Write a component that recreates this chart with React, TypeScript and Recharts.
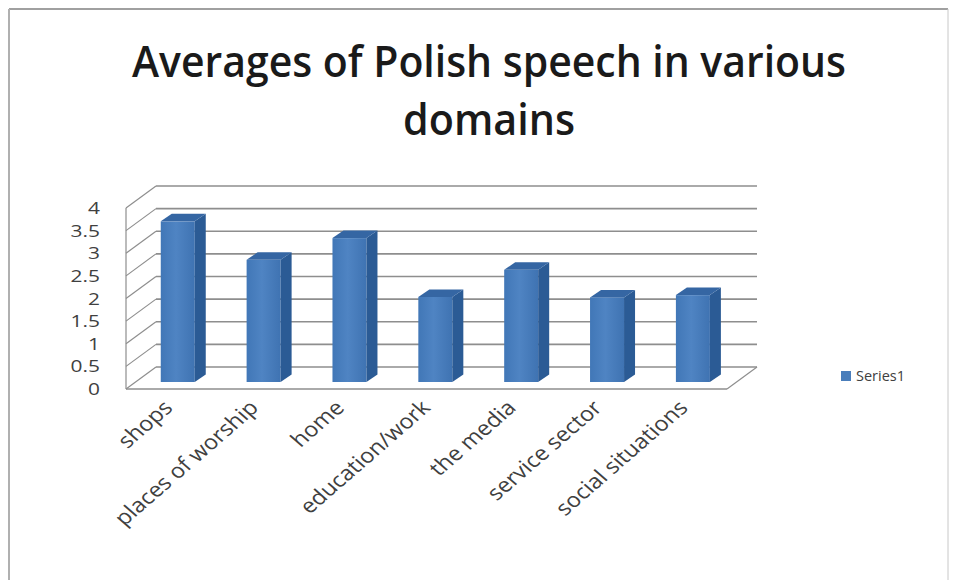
import React from 'react';
import { BarChart, Bar, XAxis, YAxis, CartesianGrid, Legend } from 'recharts';

const categories = ['shops', 'places of worship', 'home', 'education/work', 'the media', 'service sector', 'social situations'];
const series1 = [3.55, 2.7, 3.18, 1.88, 2.48, 1.87, 1.92];
const yTicks = [0, 0.5, 1, 1.5, 2, 2.5, 3, 3.5, 4];
const seriesName = 'Series1';
const titleLines = ['Averages of Polish speech in various', 'domains'];

const data = categories.map((c, i) => ({ name: c, value: series1[i] }));

const W = 958;
const H = 580;
const MARGIN = { top: 208, right: 231, bottom: 91, left: 66 };
const X_AXIS_H = 100;
const Y_AXIS_W = 60;
const PLOT_BOTTOM = H - MARGIN.bottom - X_AXIS_H;

const DEPTH_X = 30;
const DEPTH_Y = 22;
const BAR_DX = 9;
const BAR_DY = 7;
const BAR_SX = 11;
const BAR_SY = 7.5;
const GRID = '#8e8e8e';
const FONT = '"Open Sans", "Noto Sans", sans-serif';

const gridLine = (props: any) => {
  const { x1, y1, x2 } = props;
  const isFloor = Math.abs(y1 - PLOT_BOTTOM) < 1;
  return (
    <g key={props.key ?? `g-${y1}`}>
      <line x1={x1} y1={y1} x2={x1 + DEPTH_X} y2={y1 - DEPTH_Y} stroke={GRID} strokeWidth={1.2} />
      <line x1={x1 + DEPTH_X} y1={y1 - DEPTH_Y} x2={x2 + DEPTH_X} y2={y1 - DEPTH_Y} stroke={GRID} strokeWidth={1.6} />
      {isFloor && (
        <>
          <line x1={x1} y1={y1} x2={x2} y2={y1} stroke={GRID} strokeWidth={1.4} />
          <line x1={x2} y1={y1} x2={x2 + DEPTH_X} y2={y1 - DEPTH_Y} stroke={GRID} strokeWidth={1.2} />
        </>
      )}
    </g>
  );
};

const Bar3D = (props: any) => {
  const { x, y, width, height, index } = props;
  if (!(height > 0)) return null;
  const fx = x + BAR_DX;
  const fy = y - BAR_DY;
  const id = `barg-${index}`;
  return (
    <g>
      <defs>
        <linearGradient id={id} x1="0" y1="0" x2="1" y2="0">
          <stop offset="0%" stopColor="#4177b7" />
          <stop offset="45%" stopColor="#4f84c3" />
          <stop offset="100%" stopColor="#3f73b2" />
        </linearGradient>
      </defs>
      <rect x={fx} y={fy} width={width} height={height} fill={`url(#${id})`} />
      <polygon
        points={`${fx + width},${fy} ${fx + width + BAR_SX},${fy - BAR_SY} ${fx + width + BAR_SX},${fy + height - BAR_SY} ${fx + width},${fy + height}`}
        fill="#2b5b95"
      />
      <polygon
        points={`${fx},${fy} ${fx + BAR_SX},${fy - BAR_SY} ${fx + width + BAR_SX},${fy - BAR_SY} ${fx + width},${fy}`}
        fill="#3566a3"
      />
    </g>
  );
};

const YTick = (props: any) => {
  const { y, payload } = props;
  return (
    <g transform={`translate(100,${y + 6}) scale(1.35,1)`}>
      <text x={0} y={0} textAnchor="end" fontSize={15.5} fontFamily={FONT} fill="#404040">
        {payload.value}
      </text>
    </g>
  );
};

const XTick = (props: any) => {
  const { x, y, payload } = props;
  return (
    <g transform={`translate(${x + 5},${y + 20}) scale(1.15,1) rotate(-45)`}>
      <text x={0} y={0} textAnchor="end" fontSize={20.5} fontFamily={FONT} fill="#404040">
        {payload.value}
      </text>
    </g>
  );
};

const LegendContent = (props: any) => {
  const items = props.payload || [];
  return (
    <div style={{ height: 0, overflow: 'visible' }}>
      {items.map((it: any) => (
        <div key={it.value} style={{ display: 'flex', alignItems: 'center', fontFamily: FONT, fontSize: 14.5, color: '#404040', whiteSpace: 'nowrap' }}>
          <span style={{ width: 10, height: 10, background: '#4a7ebb', display: 'inline-block', marginRight: 5 }} />
          <span>{it.value}</span>
        </div>
      ))}
    </div>
  );
};

export default function App() {
  return (
    <div style={{ position: 'absolute', left: 0, top: 0, width: W, height: H, background: '#fff' }}>
      <BarChart width={W} height={H} data={data} margin={MARGIN} barCategoryGap="30%">
        <CartesianGrid vertical={false} horizontal={gridLine} />
        <XAxis
          dataKey="name"
          height={X_AXIS_H}
          axisLine={false}
          tickLine={false}
          tickSize={0}
          tickMargin={0}
          interval={0}
          tick={<XTick />}
        />
        <YAxis
          width={Y_AXIS_W}
          domain={[0, 4]}
          ticks={yTicks}
          interval={0}
          axisLine={{ stroke: GRID, strokeWidth: 1.2 }}
          tickLine={false}
          tick={<YTick />}
        />
        <Legend
          content={<LegendContent />}
          height={0}
          wrapperStyle={{ position: 'absolute', left: 841, top: 366, width: 100, height: 0 }}
        />
        <Bar dataKey="value" name={seriesName} fill="#4a7ebb" shape={<Bar3D />} isAnimationActive={false} />
      </BarChart>
      <svg width={W} height={H} style={{ position: 'absolute', left: 0, top: 0, pointerEvents: 'none' }}>
        <line x1={9} y1={9} x2={948} y2={9} stroke="#a0a0a0" strokeWidth={2} />
        <line x1={9} y1={9} x2={9} y2={H} stroke="#b0b0b0" strokeWidth={2} />
        <line x1={948} y1={9} x2={948} y2={H} stroke="#c8c8c8" strokeWidth={1} />
        <text x={489} y={77} textAnchor="middle" fontSize={44} fontWeight={600} fontFamily={FONT} fill="#1a1a1a" textLength={714} lengthAdjust="spacingAndGlyphs">
          {titleLines[0]}
        </text>
        <text x={489} y={135} textAnchor="middle" fontSize={44} fontWeight={600} fontFamily={FONT} fill="#1a1a1a" textLength={172} lengthAdjust="spacingAndGlyphs">
          {titleLines[1]}
        </text>
      </svg>
    </div>
  );
}
